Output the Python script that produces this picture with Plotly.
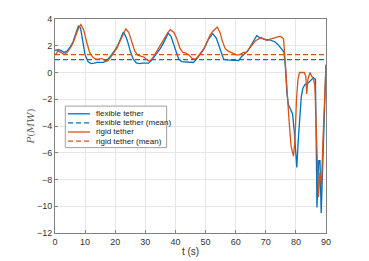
import plotly.graph_objects as go

t_flex = [0, 1, 2, 3, 4, 5, 6, 7, 7.8, 8.5, 9, 10, 11, 12, 13, 14, 16, 17, 18, 19, 20, 21, 22, 22.7, 23.5, 24, 25, 26, 27, 28, 29, 30, 31, 32, 33, 34, 35, 36, 37, 37.6, 38.5, 39, 40, 41, 42, 43, 44, 45, 46, 47, 48, 49, 50, 51, 52.4, 53.5, 54, 55, 56, 57, 58, 59, 60, 61, 62, 63, 64, 65, 66, 67, 68, 69, 70, 71, 72, 73, 74, 75, 76, 76.5, 77, 77.5, 78.2, 78.9, 79.5, 80.3, 80.8, 81.3, 81.8, 82.3, 83, 84, 85, 85.8, 86.5, 87.0, 87.6, 88.0, 88.4, 88.8, 89.3, 89.7, 90]
p_flex = [1.65, 1.7, 1.65, 1.5, 1.6, 1.9, 2.3, 2.9, 3.5, 3.3, 2.6, 1.3, 0.8, 0.67, 0.7, 0.75, 0.75, 0.85, 1.1, 1.4, 1.7, 2.1, 2.6, 3.03, 2.7, 2.4, 1.6, 1.0, 0.72, 0.67, 0.7, 0.7, 0.7, 0.9, 1.2, 1.5, 1.8, 2.2, 2.7, 2.94, 2.7, 2.4, 1.7, 1.05, 0.82, 0.8, 0.8, 0.78, 0.75, 1.0, 1.3, 1.6, 2.0, 2.5, 2.9, 2.6, 2.3, 1.6, 1.0, 0.95, 0.95, 0.95, 0.9, 0.9, 1.2, 1.4, 1.6, 2.0, 2.4, 2.75, 2.6, 2.5, 2.45, 2.45, 2.4, 2.3, 2.1, 1.85, 1.55, 0.5, -1.5, -2.4, -2.8, -3.1, -4.5, -7.1, -5.0, -3.0, -1.8, -1.2, -0.9, -0.8, -0.55, -0.4, -0.5, -10.1, -6.6, -6.6, -10.5, -7.5, -3.5, -1.0, 0.55]

t_rigid = [0, 1, 2, 3, 4, 5, 6, 7, 7.8, 8.6, 9.5, 10.5, 11.5, 12.5, 13.5, 14.5, 15.5, 16.5, 17.5, 18.5, 19.5, 20.5, 21.5, 22.5, 23.5, 24.5, 25.5, 26.5, 27.5, 28.5, 29.5, 30.5, 31.5, 32.5, 33.5, 34.5, 35.5, 36.5, 37.5, 38.3, 39.5, 40.5, 41.5, 42.5, 43.5, 44.5, 45.5, 46.5, 47.5, 48.5, 49.5, 50.5, 51.5, 52.5, 53.9, 54.8, 55.5, 56.5, 57.5, 58.5, 59.5, 60.5, 61.5, 62.5, 63.5, 64.5, 65.5, 66.5, 67.5, 68.5, 69.5, 70.5, 71.5, 72.5, 73.5, 74.5, 75.3, 75.9, 76.4, 77.0, 77.7, 78.4, 79.2, 79.7, 80.2, 80.7, 81.2, 82.0, 82.8, 83.3, 83.6, 84.0, 84.7, 85.3, 85.8, 86.3, 86.8, 87.5, 88.0, 88.5, 89.0, 89.5, 90]
p_rigid = [1.3, 1.6, 1.5, 1.35, 1.5, 1.8, 2.2, 2.8, 3.3, 3.58, 3.2, 2.3, 1.5, 1.15, 1.0, 1.0, 1.05, 0.9, 0.85, 1.15, 1.5, 1.8, 2.3, 2.8, 3.25, 3.0, 2.3, 1.6, 1.3, 1.2, 1.15, 0.95, 0.85, 1.1, 1.5, 1.8, 2.2, 2.6, 3.0, 3.2, 3.0, 2.5, 1.8, 1.5, 1.45, 1.3, 1.05, 1.0, 1.2, 1.5, 1.8, 2.3, 2.8, 3.1, 3.4, 3.0, 2.4, 1.8, 1.6, 1.5, 1.4, 1.3, 1.35, 1.5, 1.5, 1.8, 2.1, 2.35, 2.5, 2.6, 2.5, 2.4, 2.5, 2.55, 2.6, 2.7, 2.65, 2.5, 1.0, -1.5, -3.5, -5.5, -6.25, -5.0, -2.0, -0.5, 0.0, 0.0, 0.0, -0.3, -1.6, -0.5, 0.0, -0.3, -0.4, -1.0, -5.0, -9.3, -7.5, -8.5, -5.0, -1.5, 0.6]

mean_flex = 0.97
mean_rigid = 1.34
t_range = [0, 90]

x_ticks = [0, 10, 20, 30, 40, 50, 60, 70, 80, 90]
y_ticks = [4, 2, 0, -2, -4, -6, -8, -10, -12]

series_names = ["flexible tether", "flexible tether (mean)", "rigid tether", "rigid tether (mean)"]

blue = "#0072BD"
red = "#D95319"
dash_pat = "5px,3px"

fig = go.Figure()
fig.add_trace(go.Scatter(x=t_flex, y=p_flex, mode="lines", name=series_names[0],
                         line=dict(color=blue, width=1.3)))
fig.add_trace(go.Scatter(x=t_range, y=[mean_flex, mean_flex], mode="lines", name=series_names[1],
                         line=dict(color=blue, width=1.3, dash=dash_pat)))
fig.add_trace(go.Scatter(x=t_rigid, y=p_rigid, mode="lines", name=series_names[2],
                         line=dict(color=red, width=1.3)))
fig.add_trace(go.Scatter(x=t_range, y=[mean_rigid, mean_rigid], mode="lines", name=series_names[3],
                         line=dict(color=red, width=1.3, dash=dash_pat)))

# Compact MATLAB-style legend built from shapes + annotations (paper coords)
leg_x0, leg_x1, leg_y0, leg_y1 = 0.038, 0.412, 0.399, 0.593
row_y = [0.557, 0.515, 0.472, 0.429]
line_x0, line_x1, text_x = 0.048, 0.129, 0.144
styles = [(blue, "solid"), (blue, dash_pat), (red, "solid"), (red, dash_pat)]

shapes = [dict(type="rect", xref="paper", yref="paper", x0=leg_x0, x1=leg_x1, y0=leg_y0, y1=leg_y1,
               line=dict(color="#a0a0a0", width=1), fillcolor="white", layer="above")]
annotations = []
for name, (col, dsh), yy in zip(series_names, styles, row_y):
    shapes.append(dict(type="line", xref="paper", yref="paper", x0=line_x0, x1=line_x1, y0=yy, y1=yy,
                       line=dict(color=col, width=1.3, dash=dsh), layer="above"))
    annotations.append(dict(xref="paper", yref="paper", x=text_x, y=yy, text=name, showarrow=False,
                            xanchor="left", yanchor="middle", font=dict(size=8, color="#222222")))

axis_common = dict(showgrid=True, gridcolor="#e6e6e6", gridwidth=1, zeroline=False,
                   showline=True, linecolor="#808080", linewidth=1, mirror=True,
                   ticks="inside", ticklen=3, tickcolor="#808080", automargin=False,
                   tickfont=dict(size=9, color="#333333"))

fig.update_layout(
    width=369, height=261,
    margin=dict(l=55, r=43, t=19, b=28),
    paper_bgcolor="white", plot_bgcolor="white",
    font=dict(family="Liberation Sans, Arial, sans-serif", size=9, color="#333333"),
    showlegend=False,
    shapes=shapes,
    annotations=annotations,
    xaxis=dict(range=[0, 90], tickvals=x_ticks,
               title=dict(text="t (s)", standoff=2, font=dict(size=10, color="#333333")),
               **axis_common),
    yaxis=dict(range=[-12, 4], tickvals=y_ticks,
               title=dict(text="<i>P</i>(<i>MW</i>)", standoff=0,
                          font=dict(family="DejaVu Serif, Liberation Serif, serif", size=10, color="#666666")),
               **axis_common),
)

fig.write_html("out.html", config={"displayModeBar": False},
               post_script="document.body.style.margin='0';document.body.style.padding='0';")
